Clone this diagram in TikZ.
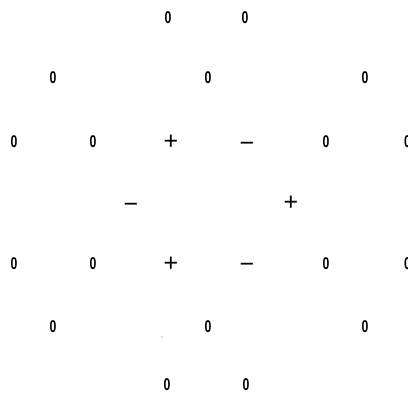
\documentclass[tikz,border=0pt]{standalone}
\usepackage{fontspec}
\setmainfont{Liberation Sans}
\begin{document}
\begin{tikzpicture}[x=1pt,y=-1pt,
  zero/.style={inner sep=0pt,font=\fontsize{17}{17}\selectfont\bfseries},
  sgn/.style={inner sep=0pt,font=\fontsize{25}{25}\selectfont}]
\useasboundingbox (0,0) rectangle (408,397);
\newcommand{\zz}{\scalebox{0.72}[1]{0}}
% row 1
\node[zero] (a1) at (168,18) {\zz};
\node[zero] (a2) at (245,18) {\zz};
% row 2
\node[zero] (b1) at (53,78) {\zz};
\node[zero] (b2) at (208,78) {\zz};
\node[zero] (b3) at (365,78) {\zz};
% row 3
\node[zero] (c1) at (14,142) {\zz};
\node[zero] (c2) at (93,142) {\zz};
\node[sgn] (c3) at (171,142) {+};
\node[sgn] (c4) at (247,146.5) {−};
\node[zero] (c5) at (326,142) {\zz};
\node[zero] (c6) at (407.5,142) {\zz};
% row 4
\node[sgn] (d1) at (131,208) {−};
\node[sgn] (d2) at (291,203) {+};
% row 5
\node[zero] (e1) at (14,264) {\zz};
\node[zero] (e2) at (93,264) {\zz};
\node[sgn] (e3) at (171,264) {+};
\node[sgn] (e4) at (247,268) {−};
\node[zero] (e5) at (326,264) {\zz};
\node[zero] (e6) at (407.5,264) {\zz};
% row 6
\node[zero] (f1) at (53,327) {\zz};
\node[zero] (f2) at (208,327) {\zz};
\node[zero] (f3) at (365,327) {\zz};
\fill[gray] (162,337) circle (0.6);
% row 7
\node[zero] (g1) at (167,385) {\zz};
\node[zero] (g2) at (246,385) {\zz};
\end{tikzpicture}
\end{document}
